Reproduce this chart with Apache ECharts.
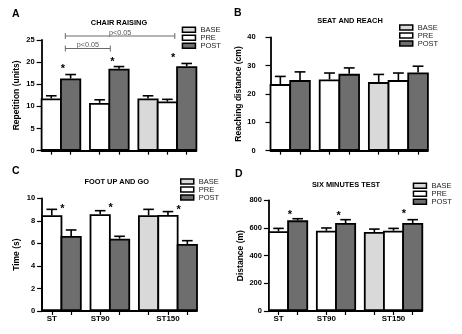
<!DOCTYPE html>
<html><head><meta charset="utf-8">
<script src="https://cdn.jsdelivr.net/npm/echarts@6/dist/echarts.min.js"></script>
<style>html,body{margin:0;padding:0;background:#fff}#c{width:462px;height:334px}</style>
</head><body><div id="c"></div>
<script>
const FONT = '"Liberation Sans", Arial, Helvetica, sans-serif';

// ---- data ----
const groups = ['ST', 'ST90', 'ST150'];
const seriesNames = ['BASE', 'PRE', 'POST'];

// A: chair raising (units)
const chairBase = [11.8];  const chairBaseErr = [0.6];
const chairPre  = [11.8, 10.8, 11.1];  const chairPreErr  = [0.6, 0.7, 0.5];
const chairPost = [16.3, 18.5, 19.1];  const chairPostErr = [0.9, 0.5, 0.6];
// B: seat and reach (cm)
const reachBase = [24.2];  const reachBaseErr = [2.7];
const reachPre  = [23.5, 25.1, 24.9];  const reachPreErr  = [2.7, 2.3, 2.5];
const reachPost = [24.9, 27.1, 27.6];  const reachPostErr = [2.9, 2.1, 2.2];
// C: foot up and go (s)
const footBase = [8.49];  const footBaseErr = [0.53];
const footPre  = [8.49, 8.58, 8.52];  const footPreErr  = [0.53, 0.32, 0.30];
const footPost = [6.66, 6.42, 5.95];  const footPostErr = [0.53, 0.21, 0.29];
// D: six minutes test (m)
const sixBase = [571];  const sixBaseErr = [21];
const sixPre  = [576, 580, 580];  const sixPreErr  = [21, 20, 17];
const sixPost = [655, 636, 636];  const sixPostErr = [12, 24, 24];

// significance annotations (x in slot units, y in data units)
const chairStars = [[2.21, 19.0], [7.31, 20.6], [13.6, 21.6]];
const footStars  = [[2.09, 9.25], [7.09, 9.4], [14.11, 9.23]];
const sixStars   = [[2.2, 710], [7.28, 703], [14.09, 720]];
const chairBrackets = [[2.45, 13.77, 25.9, 'p<0.05'], [2.45, 7.1, 23.08, 'p<0.05']];

// ---- layout ----
const SLOTS = 17;
const basePos = [11], prePos = [1, 6, 13], postPos = [3, 8, 15];
const tickPos = [1, 3, 6, 8, 11, 13, 15];
const labelPos = [1, 6, 13];
const COLORS = { BASE: '#d9d9d9', PRE: '#ffffff', POST: '#6e6e6e' };
const BORDER = 1.8;

const panels = [
  { letter: 'A', title: 'CHAIR RAISING', yName: 'Repetition (units)', max: 25, interval: 5,
    base: chairBase, baseErr: chairBaseErr, pre: chairPre, preErr: chairPreErr, post: chairPost, postErr: chairPostErr,
    stars: chairStars, brackets: chairBrackets, xLabels: false,
    box: [41.6, 40, 154.8, 110.7], yOffset: 0, nameGap: 20, letterPos: [12, 15], titlePos: [119, 23.3], legendPos: [181.7, 25.8] },
  { letter: 'B', title: 'SEAT AND REACH', yName: 'Reaching distance (cm)', max: 40, interval: 10,
    base: reachBase, baseErr: reachBaseErr, pre: reachPre, preErr: reachPreErr, post: reachPost, postErr: reachPostErr,
    stars: [], brackets: [], xLabels: false,
    box: [270.5, 37.3, 157.4, 113.4], yOffset: 7.8, nameGap: 14.5, letterPos: [234, 13.3], titlePos: [350, 20.7], legendPos: [399, 23.5] },
  { letter: 'C', title: 'FOOT UP AND GO', yName: 'Time (s)', max: 10, interval: 2,
    base: footBase, baseErr: footBaseErr, pre: footPre, preErr: footPreErr, post: footPost, postErr: footPostErr,
    stars: footStars, brackets: [], xLabels: true,
    box: [42.1, 198.3, 154.9, 112.7], yOffset: 0, nameGap: 21, letterPos: [12, 172], titlePos: [116.7, 182], legendPos: [180, 177.5] },
  { letter: 'D', title: 'SIX MINUTES TEST', yName: 'Distance (m)', max: 800, interval: 200,
    base: sixBase, baseErr: sixBaseErr, pre: sixPre, preErr: sixPreErr, post: sixPost, postErr: sixPostErr,
    stars: sixStars, brackets: [], xLabels: true,
    box: [268.9, 200.3, 153.4, 110.7], yOffset: 0, nameGap: 24, letterPos: [235, 174.3], titlePos: [346, 185.3], legendPos: [412.7, 181.8] }
];

function slotData(posArr, vals) {
  const d = new Array(SLOTS).fill('-');
  posArr.forEach((p, k) => { d[p] = vals[k]; });
  return d;
}

const option = { animation: false, grid: [], xAxis: [], yAxis: [], series: [], legend: [], graphic: [] };

panels.forEach((p, i) => {
  option.grid.push({ left: p.box[0], top: p.box[1], width: p.box[2], height: p.box[3] });
  const band = p.box[2] / (SLOTS - 1);
  const cats = Array.from({ length: SLOTS }, (_, k) => { const g = labelPos.indexOf(k); return g >= 0 ? groups[g] : ''; });
  option.xAxis.push({
    type: 'category', gridIndex: i, data: cats, boundaryGap: false,
    axisLine: { lineStyle: { color: '#000', width: 1.8 } },
    axisTick: { show: true, length: 4, interval: (idx) => tickPos.includes(idx), lineStyle: { color: '#000', width: 1.2 } },
    axisLabel: { show: p.xLabels, interval: (idx) => labelPos.includes(idx), color: '#000', fontWeight: 'bold', fontSize: 8, margin: 4, fontFamily: FONT },
    splitLine: { show: false }
  });
  option.xAxis.push({ type: 'value', gridIndex: i, min: 0, max: SLOTS - 1, show: false });
  option.yAxis.push({
    type: 'value', gridIndex: i, min: 0, max: p.max, interval: p.interval, offset: p.yOffset,
    name: p.yName, nameLocation: 'middle', nameGap: p.nameGap,
    nameTextStyle: { color: '#000', fontWeight: 'bold', fontSize: 8.5, fontFamily: FONT },
    axisLine: { show: true, lineStyle: { color: '#000', width: 1.8 } },
    axisTick: { show: true, length: 5, lineStyle: { color: '#000', width: 1.2 } },
    axisLabel: { color: '#000', fontWeight: 'bold', fontSize: 7.5, margin: 7, fontFamily: FONT },
    splitLine: { show: false }
  });
  const xi = 2 * i, vxi = 2 * i + 1;
  const sets = { BASE: [basePos, p.base, p.baseErr], PRE: [prePos, p.pre, p.preErr], POST: [postPos, p.post, p.postErr] };
  const errData = [];
  seriesNames.forEach((nm) => {
    const [pos, vals, errs] = sets[nm];
    option.series.push({
      name: nm, type: 'bar', xAxisIndex: xi, yAxisIndex: i, data: slotData(pos, vals),
      barWidth: 2 * band + BORDER, barGap: '-100%',
      itemStyle: { color: COLORS[nm], borderColor: '#000', borderWidth: BORDER },
      silent: true
    });
    pos.forEach((ps, k) => errData.push([ps, vals[k], errs[k]]));
  });
  option.series.push({
    type: 'custom', xAxisIndex: vxi, yAxisIndex: i, data: errData, z: 5, silent: true,
    renderItem: (params, api) => {
      const x = api.value(0), m = api.value(1), e = api.value(2);
      const p0 = api.coord([x, m]), p1 = api.coord([x, m + e]);
      const hw = api.size([1, 0])[0] * 0.55;
      const st = { stroke: '#000', lineWidth: 1.6 };
      return { type: 'group', children: [
        { type: 'line', shape: { x1: p0[0], y1: p0[1], x2: p1[0], y2: p1[1] }, style: st },
        { type: 'line', shape: { x1: p1[0] - hw, y1: p1[1], x2: p1[0] + hw, y2: p1[1] }, style: st }
      ] };
    }
  });
  if (p.stars.length) {
    option.series.push({
      type: 'custom', xAxisIndex: vxi, yAxisIndex: i, data: p.stars, z: 6, silent: true,
      renderItem: (params, api) => {
        const pt = api.coord([api.value(0), api.value(1)]);
        return { type: 'text', x: pt[0], y: pt[1] + 2.6, style: { text: '*', fill: '#000', fontSize: 11, fontWeight: 'bold', fontFamily: FONT, align: 'center', verticalAlign: 'middle' } };
      }
    });
  }
  if (p.brackets.length) {
    option.series.push({
      type: 'custom', xAxisIndex: vxi, yAxisIndex: i, data: p.brackets.map(b => [b[0], b[1], b[2]]), z: 6, silent: true,
      renderItem: (params, api) => {
        const a = api.coord([api.value(0), api.value(2)]), b = api.coord([api.value(1), api.value(2)]);
        const st = { stroke: '#6a6a6a', lineWidth: 1 };
        const lbl = p.brackets[params.dataIndex][3];
        return { type: 'group', children: [
          { type: 'line', shape: { x1: a[0], y1: a[1], x2: b[0], y2: b[1] }, style: st },
          { type: 'line', shape: { x1: a[0], y1: a[1] - 3, x2: a[0], y2: a[1] + 3 }, style: st },
          { type: 'line', shape: { x1: b[0], y1: b[1] - 3, x2: b[0], y2: b[1] + 3 }, style: st },
          { type: 'text', x: (a[0] + b[0]) / 2, y: a[1] - 3, style: { text: lbl, fill: '#555', fontSize: 7.2, fontFamily: FONT, align: 'center', verticalAlign: 'middle' } }
        ] };
      }
    });
  }
  option.legend.push({
    orient: 'vertical', left: p.legendPos[0], top: p.legendPos[1], padding: 0,
    itemWidth: 13, itemHeight: 5, itemGap: 0, icon: 'rect', selectedMode: false,
    data: seriesNames,
    itemStyle: { borderColor: '#000', borderWidth: 1.5 },
    textStyle: { fontSize: 7.5, color: '#222', lineHeight: 7, fontFamily: FONT }
  });
  option.graphic.push({ type: 'text', left: p.letterPos[0], top: p.letterPos[1] - 6,
    style: { text: p.letter, fill: '#000', fontSize: 10.5, fontWeight: 'bold', fontFamily: FONT } });
  option.graphic.push({ type: 'text', x: p.titlePos[0], y: p.titlePos[1],
    style: { text: p.title, fill: '#000', fontSize: 7.4, fontWeight: 'bold', fontFamily: FONT, align: 'center', verticalAlign: 'middle' } });
});

const chart = echarts.init(document.getElementById('c'), null, { renderer: 'canvas' });
chart.setOption(option);
</script>
</body></html>
